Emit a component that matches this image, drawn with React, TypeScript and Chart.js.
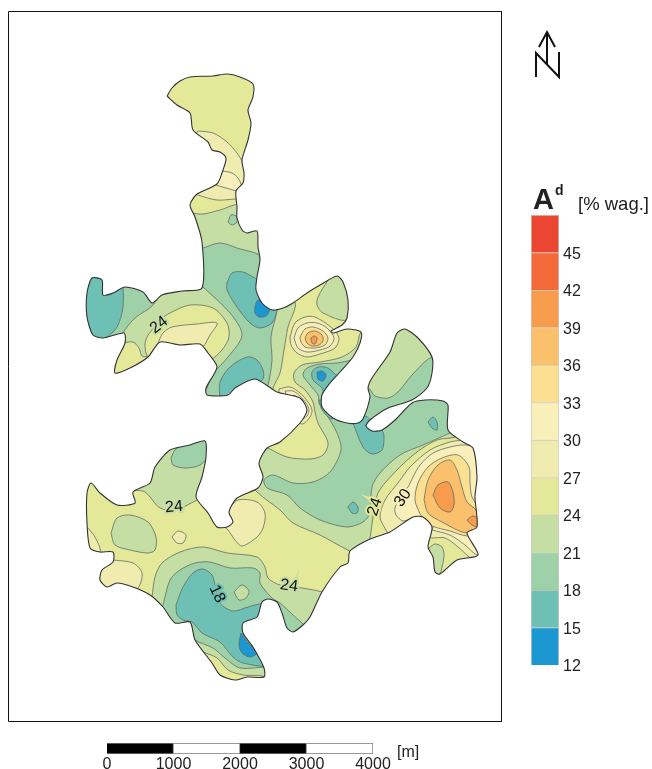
import React, { useEffect, useRef } from "react";
import { Chart, registerables } from "chart.js";

type P = [number, number];

// ---- class values (legend) ----
const classBounds = [12, 15, 18, 21, 24, 27, 30, 33, 36, 39, 42, 45, 48];
const classColors = ["#1c97d2", "#6ec0b4", "#9ed1a8", "#c5dea4", "#e4e899", "#f0ecb0", "#f8efbb", "#fce092", "#fbc06b", "#f79b4d", "#f26a38", "#ea4632"];
const C12 = 0, C15 = 1, C18 = 2, C21 = 3, C24 = 4, C27 = 5, C30 = 6, C33 = 7, C36 = 8, C39 = 9;

// ---- scale bar ----
const scaleSegments: P[] = [[0, 1000], [1000, 2000], [2000, 3000], [3000, 4000]];
const scaleColors = ["#000000", "#ffffff", "#000000", "#ffffff"];

// ---- map outline and isoline bands, in map-sheet units ----
const outline: P[] = [[167,96],[172,88],[180,81],[190,77],[213,76],[227,74],[240,77],[253,84],[253,97],[248,110],[251,123],[248,140],[242,160],[244,173],[243,183],[236,191],[237,207],[237,218],[242,230],[247,233],[257,231],[258,247],[260,260],[257,277],[256,290],[262,303],[272,310],[283,308],[293,303],[307,293],[320,285],[337,276],[343,282],[348,300],[347,318],[342,325],[331,331],[333,333],[347,329],[361,332],[360,343],[353,357],[340,372],[330,383],[322,395],[322,407],[333,418],[347,423],[358,423],[363,419],[370,397],[368,388],[372,378],[390,352],[397,333],[405,329],[418,338],[432,357],[432,373],[427,388],[412,400],[388,408],[370,420],[366,426],[372,431],[382,430],[395,420],[412,403],[425,400],[443,401],[448,405],[448,430],[463,442],[473,448],[477,477],[475,497],[477,527],[467,533],[478,555],[457,560],[440,574],[435,572],[433,557],[428,547],[432,527],[423,517],[413,517],[390,532],[370,539],[350,551],[348,563],[340,567],[322,592],[310,617],[303,625],[293,632],[287,628],[282,613],[277,602],[268,599],[262,602],[257,617],[243,623],[243,633],[253,647],[264,668],[264,677],[247,677],[235,680],[220,675],[212,663],[195,640],[190,622],[175,623],[163,607],[150,595],[133,587],[117,583],[107,587],[100,580],[102,570],[113,562],[113,552],[100,552],[90,548],[87,523],[87,493],[91,483],[100,493],[117,505],[135,503],[133,492],[150,483],[155,467],[170,450],[190,445],[205,441],[206,457],[202,477],[196,497],[208,513],[217,527],[227,527],[233,522],[229,512],[237,498],[258,488],[263,477],[259,463],[267,448],[280,442],[300,423],[307,410],[300,398],[277,392],[255,379],[235,388],[228,395],[207,395],[206,388],[217,367],[208,353],[200,344],[180,345],[160,342],[148,357],[130,368],[115,373],[117,360],[125,343],[124,333],[103,338],[93,335],[87,317],[87,293],[92,278],[102,280],[103,295],[113,293],[125,287],[143,292],[152,303],[162,295],[182,291],[202,288],[202,242],[195,217],[190,205],[197,194],[217,184],[223,170],[226,158],[220,152],[212,150],[208,142],[193,130],[190,113],[177,105]];

const north27: P[] = [[198,131],[213,133],[227,142],[237,153],[243,163],[252,180],[248,200],[237,199],[217,200],[198,195],[185,190],[185,150]];
const north30: P[] = [[222,171],[232,173],[238,178],[241,184],[245,195],[236,191],[226,188],[216,185],[208,180],[213,170]];
const band21North: P[] = [[190,213],[203,214],[220,210],[240,205],[268,230],[268,290],[295,302],[288,327],[284,350],[280,373],[273,388],[270,405],[200,410],[100,400],[78,350],[78,270],[185,270],[182,220]];
const westTip24: P[] = [[123,343],[133,342],[139,348],[142,356],[150,358],[150,382],[100,382],[105,345]];
const westPatch24: P[] = [[152,330],[160,320],[170,313],[190,305],[213,308],[227,323],[229,337],[222,350],[210,360],[195,362],[160,356],[148,357],[145,345],[147,337]];
const westCore27: P[] = [[158,343],[163,333],[172,327],[197,324],[217,323],[210,335],[203,347],[195,352],[170,352],[160,350]];
const northBlob18: P[] = [[228,222],[231,215],[236,216],[237,222],[232,225]];
const band18North: P[] = [[195,250],[203,248],[220,243],[237,248],[263,258],[275,300],[277,310],[271,337],[272,360],[268,385],[262,400],[200,400],[207,388],[212,375],[228,357],[242,335],[230,313],[203,287],[195,280]];
const west18: P[] = [[120,280],[160,288],[153,305],[135,318],[123,333],[120,345],[100,346],[78,345],[75,280]];
const west15: P[] = [[123,280],[123,307],[117,327],[105,338],[78,345],[75,280]];
const pocket15: P[] = [[227,283],[232,273],[243,272],[255,278],[262,280],[275,300],[277,310],[272,323],[260,328],[250,323],[237,307],[227,290]];
const pocket12: P[] = [[255,306],[258,300],[270,305],[269,312],[266,316],[259,317],[255,313]];
const south15: P[] = [[220,400],[220,382],[230,367],[247,357],[257,360],[263,370],[263,379],[255,385],[240,398]];
const neLobe21: P[] = [[328,280],[318,297],[317,305],[323,313],[347,320],[356,300],[345,268]];
const hill27: P[] = [[290,337],[295,323],[305,317],[315,317],[332,328],[339,338],[335,348],[323,353],[307,357],[297,353],[291,345]];
const hill30: P[] = [[294,338],[298,328],[307,323],[317,323],[327,328],[334,338],[330,346],[320,350],[307,352],[298,348]];
const hill33: P[] = [[300,337],[305,329],[313,327],[323,331],[328,338],[325,345],[315,348],[305,347],[301,342]];
const hill36: P[] = [[305,338],[308,333],[315,331],[322,335],[323,341],[319,345],[312,346],[307,343]];
const hill39: P[] = [[311,338],[314,336],[317,338],[315,344],[312,343]];
const band21South: P[] = [[268,448],[287,457],[310,459],[323,455],[328,443],[318,423],[315,412],[313,402],[305,390],[295,382],[294,373],[302,365],[320,362],[342,357],[356,347],[361,332],[380,320],[450,320],[490,420],[455,437],[437,440],[417,452],[397,470],[378,493],[373,517],[370,538],[365,555],[350,551],[320,535],[293,523],[280,510],[257,492],[250,480],[258,452]];
const band18South: P[] = [[325,412],[337,433],[341,450],[330,472],[313,482],[293,483],[273,475],[264,480],[267,488],[287,495],[300,508],[320,520],[347,527],[363,522],[370,513],[372,487],[380,473],[400,455],[423,445],[450,433],[480,420],[480,345],[432,357],[412,375],[398,392],[388,398],[375,396],[368,388],[355,395],[345,412]];
const hillSouth18: P[] = [[352,360],[337,363],[320,364],[307,368],[303,375],[310,385],[318,395],[320,405],[330,400],[345,385],[360,370]];
const hillSouth15: P[] = [[336,375],[328,368],[318,367],[312,372],[313,380],[322,388],[325,397],[335,392],[345,380]];
const hillSouth12: P[] = [[317,372],[322,371],[326,375],[323,381],[318,379]];
const neck15: P[] = [[319,400],[322,410],[331,419],[335,416],[330,400]];
const neck27: P[] = [[279,389],[290,387],[300,393],[308,402],[312,410],[310,417],[302,424],[290,415],[280,400]];
const neck30: P[] = [[285,391],[293,391],[300,396],[306,403],[309,410],[307,416],[300,419],[290,405]];
const neck33: P[] = [[294,395],[300,399],[304,404],[306,410],[304,414],[298,408]];
const notch15: P[] = [[353,423],[363,447],[372,454],[382,450],[384,437],[382,430],[375,425],[365,416]];
const eastDiamond15: P[] = [[428,422],[433,417],[437,422],[437,430],[432,428]];
const midDiamond15: P[] = [[348,507],[353,502],[358,507],[357,513],[352,513]];
const east27: P[] = [[387,532],[380,517],[385,500],[398,483],[410,467],[430,450],[450,442],[465,440],[490,440],[490,520],[470,520],[440,520],[420,520],[400,540]];
const east30: P[] = [[412,518],[403,521],[396,515],[395,508],[400,497],[408,487],[413,477],[420,465],[433,453],[450,447],[465,445],[490,450],[490,520],[440,520],[420,520]];
const prong27: P[] = [[425,525],[428,537],[445,538],[458,547],[468,556],[480,565],[485,545],[470,525],[440,520]];
const prong30: P[] = [[432,530],[450,535],[465,545],[478,555],[490,545],[480,520],[440,515]];
const prong21: P[] = [[429,548],[435,544],[442,547],[444,555],[442,567],[438,578],[425,570]];
const east33: P[] = [[420,514],[415,500],[418,483],[428,467],[442,458],[458,455],[469,467],[470,483],[472,497],[480,510],[482,530],[468,536],[450,531],[432,526],[425,520]];
const east36: P[] = [[424,500],[428,480],[438,465],[450,460],[457,470],[462,487],[467,502],[476,510],[482,525],[467,533],[442,522],[428,513]];
const east39: P[] = [[433,495],[438,485],[448,482],[453,492],[454,505],[450,512],[440,508]];
const tip39: P[] = [[467,520],[473,516],[480,520],[482,528],[472,525]];
const centerPatch27: P[] = [[228,510],[238,500],[257,502],[265,513],[263,528],[257,537],[242,546],[235,540],[228,530],[220,522]];
const swNorth21: P[] = [[133,490],[145,492],[160,508],[175,510],[197,500],[205,495],[218,480],[218,430],[160,430],[125,470]];
const swNorth18: P[] = [[171,458],[175,450],[190,440],[210,435],[210,453],[200,465],[185,468],[173,465]];
const westOval21: P[] = [[111,533],[117,518],[130,515],[148,522],[156,537],[155,550],[148,553],[130,550],[115,545]];
const hex27: P[] = [[172,537],[178,531],[186,535],[183,543],[177,543]];
const westEdge27: P[] = [[87,527],[95,537],[100,552],[85,555],[80,530]];
const swBubble27: P[] = [[113,560],[133,563],[142,573],[138,588],[125,592],[95,590],[90,570],[105,555]];
const band21SW: P[] = [[152,597],[155,577],[162,563],[180,552],[203,547],[227,553],[257,557],[265,567],[268,578],[280,585],[302,588],[322,592],[340,600],[320,650],[280,650],[272,690],[210,690],[185,650],[150,612]];
const prongBase24: P[] = [[203,652],[217,658],[228,670],[243,675],[265,677],[270,690],[220,690],[195,660]];
const band18SW: P[] = [[163,605],[170,580],[180,570],[195,563],[210,562],[230,568],[253,568],[260,573],[260,583],[272,598],[280,603],[293,615],[306,628],[305,640],[290,645],[272,680],[270,668],[240,668],[225,658],[213,648],[195,640],[185,628],[158,618]];
const band15SW: P[] = [[176,605],[183,587],[193,573],[203,569],[212,575],[215,585],[220,603],[233,611],[248,607],[262,604],[270,610],[262,640],[270,665],[243,663],[233,657],[220,642],[202,633],[192,622],[183,620],[177,615]];
const hexSouth21: P[] = [[234,592],[242,585],[249,591],[246,598],[239,600]];
const band12SW: P[] = [[241,633],[248,643],[257,653],[250,657],[242,653],[239,645]];

const bands: [P[], number][] = [
  [north27, C27], [north30, C30], [band21North, C21], [westTip24, C24], [westPatch24, C24], [westCore27, C27],
  [northBlob18, C18], [band18North, C18], [west18, C18], [west15, C15], [pocket15, C15], [pocket12, C12], [south15, C15],
  [neLobe21, C21], [hill27, C27], [hill30, C30], [hill33, C33], [hill36, C36], [hill39, C39],
  [band21South, C21], [band18South, C18], [hillSouth18, C18], [hillSouth15, C15], [hillSouth12, C12], [neck15, C15],
  [neck27, C27], [neck30, C30], [neck33, C33], [notch15, C15], [eastDiamond15, C15], [midDiamond15, C15],
  [east27, C27], [prong27, C27], [east30, C30], [prong30, C30], [prong21, C21], [east33, C33], [east36, C36], [east39, C39], [tip39, C39],
  [centerPatch27, C27], [swNorth21, C21], [swNorth18, C18], [westOval21, C21], [hex27, C27], [westEdge27, C27], [swBubble27, C27],
  [band21SW, C21], [prongBase24, C24], [band18SW, C18], [band15SW, C15], [hexSouth21, C21], [band12SW, C12],
];

// ---- furniture ----
const frame: P[] = [[8.5, 11.5], [501.5, 11.5], [501.5, 721.5], [8.5, 721.5], [8.5, 11.5]];
const northN: P[] = [[536, 77], [536, 53], [559, 77], [559, 52]];
const northShaft: P[] = [[547, 65], [547, 32]];
const northHead: P[] = [[539, 47], [547, 32], [555, 47]];

const isoLabels: [string, number, number, number, number][] = [
  ["24", 159, 325, -38, C21],
  ["24", 174, 507, -5, C21],
  ["24", 289, 586, 8, C21],
  ["18", 217, 594, 65, C15],
  ["24", 375, 507, -72, C24],
  ["30", 403, 498, -55, C30],
];

const FONT = '"Liberation Sans", Arial, sans-serif';
const toPts = (a: P[]) => a.map(([x, y]) => ({ x, y }));
const closed = (a: P[]) => [...a, a[0]];

// Registered first so that the clip is active before the Filler paints each band.
const outlineClip = {
  id: "outlineClip",
  beforeDatasetDraw(chart: any, args: any) {
    const ds = chart.data.datasets[args.index];
    if (!ds.clipToOutline) return;
    const idx = chart.data.datasets.findIndex((d: any) => d.isOutline);
    const line = chart.getDatasetMeta(idx).dataset;
    const ctx = chart.ctx;
    ctx.save();
    line.updateControlPoints(chart.chartArea, "x");
    ctx.beginPath();
    line.path(ctx);
    ctx.closePath();
    ctx.clip();
  },
  afterDatasetDraw(chart: any, args: any) {
    const ds = chart.data.datasets[args.index];
    if (ds.clipToOutline) chart.ctx.restore();
  },
};
Chart.register(outlineClip as any, ...registerables);

const mapText = {
  id: "mapText",
  afterDatasetsDraw(chart: any) {
    const { ctx, scales } = chart;
    const X = (v: number) => scales.x.getPixelForValue(v);
    const Y = (v: number) => scales.y.getPixelForValue(v);
    ctx.save();
    ctx.textAlign = "center";
    ctx.textBaseline = "middle";
    for (const [t, x, y, a, c] of isoLabels) {
      ctx.save();
      ctx.translate(X(x), Y(y));
      ctx.rotate((a * Math.PI) / 180);
      ctx.font = `16px ${FONT}`;
      ctx.strokeStyle = classColors[c];
      ctx.lineWidth = 4;
      ctx.strokeText(t, 0, 0);
      ctx.fillStyle = "#111";
      ctx.fillText(t, 0, 0);
      ctx.restore();
    }
    ctx.textAlign = "left";
    ctx.textBaseline = "alphabetic";
    ctx.fillStyle = "#222";
    ctx.font = `bold 29px ${FONT}`;
    ctx.fillText("A", X(533), Y(209));
    ctx.font = `bold 14px ${FONT}`;
    ctx.fillText("d", X(555), Y(195));
    ctx.font = `18.5px ${FONT}`;
    ctx.fillText("[% wag.]", X(578), Y(210));
    ctx.font = `16px ${FONT}`;
    ctx.fillText("[m]", X(397), Y(757));
    ctx.restore();
  },
};

export default function App() {
  const mapRef = useRef<HTMLCanvasElement>(null);
  const legendRef = useRef<HTMLCanvasElement>(null);
  const barRef = useRef<HTMLCanvasElement>(null);

  useEffect(() => {
    const furniture = (pts: P[], width: number) => ({
      data: toPts(pts), showLine: true, fill: false, tension: 0, borderColor: "#111", borderWidth: width, pointRadius: 0,
    });
    // A dataset with a higher `order` is painted earlier, so order falls as layers rise.
    const n = bands.length + 10;
    const mapChart = new Chart(mapRef.current!, {
      type: "scatter",
      data: {
        datasets: [
          { data: toPts(closed(outline)), isOutline: true, showLine: true, fill: "shape", clipToOutline: true, backgroundColor: classColors[C24], borderColor: "transparent", borderWidth: 0, tension: 0.25, pointRadius: 0, order: n } as any,
          ...bands.map(([pts, c], i) => ({
            data: toPts(closed(pts)), showLine: true, fill: "shape", clipToOutline: true, backgroundColor: classColors[c], borderColor: "#626c66", borderWidth: 0.8, tension: 0.3, pointRadius: 0, order: n - 1 - i,
          })) as any,
          { data: toPts(closed(outline)), showLine: true, fill: false, borderColor: "#333333", borderWidth: 1.1, tension: 0.25, pointRadius: 0, order: 3 } as any,
          { ...furniture(frame, 1), order: 2 } as any,
          { ...furniture(northN, 2), order: 1 } as any,
          { ...furniture(northShaft, 2), order: 1 } as any,
          { ...furniture(northHead, 2), order: 1 } as any,
        ],
      },
      options: {
        animation: false, responsive: false, events: [],
        layout: { padding: 0 },
        scales: {
          x: { type: "linear", display: false, min: 0, max: 652 },
          y: { type: "linear", display: false, min: 0, max: 769, reverse: true },
        },
        plugins: { legend: { display: false }, tooltip: { enabled: false } },
      },
      plugins: [mapText],
    } as any);

    const legendChart = new Chart(legendRef.current!, {
      type: "bar",
      data: {
        labels: ["Ad"],
        datasets: classColors.map((c, i) => ({
          data: [[classBounds[i], classBounds[i + 1]]], backgroundColor: c, borderColor: "rgba(90,80,60,0.3)", borderWidth: 1, grouped: false, barPercentage: 1, categoryPercentage: 1,
        })) as any,
      },
      options: {
        animation: false, responsive: false, events: [],
        layout: { padding: { top: 10, bottom: 14, left: 0, right: 0 } },
        scales: {
          x: { display: false },
          y: {
            position: "right", min: 12, max: 48,
            grid: { display: false, drawTicks: false }, border: { display: false },
            afterFit(s: any) { s.width = 36; s.paddingTop = 0; s.paddingBottom = 0; },
            ticks: { stepSize: 3, autoSkip: false, padding: 4, labelOffset: 2, color: "#222", font: { size: 16, family: FONT }, callback: (v: any) => (v === 48 ? "" : v) },
          },
        },
        plugins: { legend: { display: false }, tooltip: { enabled: false } },
      },
    } as any);

    const barChart = new Chart(barRef.current!, {
      type: "bar",
      data: {
        labels: ["m"],
        datasets: scaleSegments.map((s, i) => ({
          data: [s], backgroundColor: scaleColors[i], borderColor: "#777", borderWidth: 1, grouped: false, barPercentage: 1, categoryPercentage: 1,
        })) as any,
      },
      options: {
        indexAxis: "y", animation: false, responsive: false, events: [],
        layout: { padding: { left: 40, right: 40, top: 5, bottom: 0 } },
        scales: {
          y: { display: false },
          x: {
            min: 0, max: 4000,
            grid: { display: false, drawTicks: false }, border: { display: false },
            afterFit(s: any) { s.height = 15; s.paddingLeft = 0; s.paddingRight = 0; },
            ticks: { stepSize: 1000, autoSkip: false, maxRotation: 0, padding: 1, color: "#222", font: { size: 16, family: FONT }, callback: (v: any) => String(v) },
          },
        },
        plugins: { legend: { display: false }, tooltip: { enabled: false } },
      },
    } as any);

    return () => {
      mapChart.destroy();
      legendChart.destroy();
      barChart.destroy();
    };
  }, []);

  const abs = (left: number, top: number): React.CSSProperties => ({ position: "absolute", left, top, display: "block" });
  return (
    <div style={{ position: "absolute", left: 0, top: 0, width: 652, height: 769, overflow: "hidden", background: "#fff" }}>
      <canvas ref={mapRef} width={652} height={769} style={abs(0, 0)} />
      <canvas ref={legendRef} width={64} height={474} style={abs(531, 205)} />
      <canvas ref={barRef} width={346} height={31} style={abs(67, 738)} />
    </div>
  );
}
